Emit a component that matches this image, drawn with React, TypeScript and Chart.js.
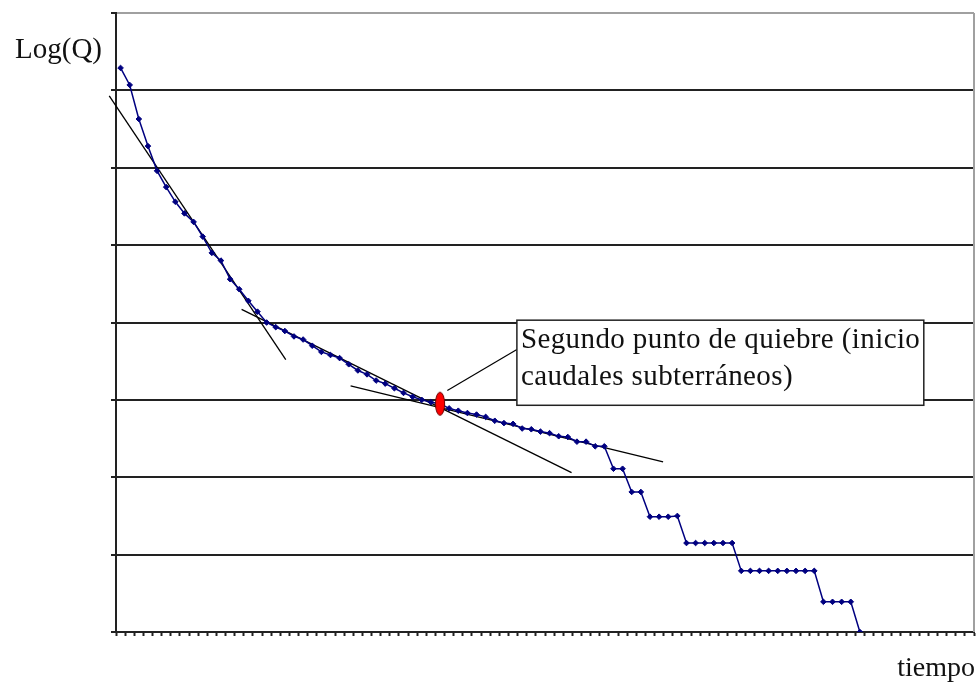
import React, { useEffect, useRef } from "react";
import { Chart, registerables } from "chart.js";

Chart.register(...registerables);

// ---- data ----
const categoryCount = 94; // time steps on the (unlabelled) category axis
const categories: string[] = Array.from({ length: categoryCount }, (_, i) => String(i + 1));

// Log(Q) values of the recession curve (one per time step, index 0..81)
const logQ: number[] = [
  7.29, 7.07, 6.63, 6.28, 5.96, 5.75, 5.56, 5.41, 5.3, 5.11,
  4.9, 4.8, 4.56, 4.43, 4.28, 4.14, 4.0, 3.94, 3.89, 3.82,
  3.78, 3.7, 3.62, 3.58, 3.54, 3.46, 3.38, 3.33, 3.25, 3.21,
  3.15, 3.09, 3.04, 3.0, 2.97, 2.95, 2.89, 2.86, 2.83, 2.81,
  2.78, 2.73, 2.7, 2.69, 2.63, 2.62, 2.59, 2.57, 2.53, 2.52,
  2.46, 2.46, 2.4, 2.4, 2.11, 2.11, 1.81, 1.81, 1.49, 1.49,
  1.49, 1.5, 1.15, 1.15, 1.15, 1.15, 1.15, 1.15, 0.79, 0.79,
  0.79, 0.79, 0.79, 0.79, 0.79, 0.79, 0.79, 0.39, 0.39, 0.39,
  0.39, 0.0,
];

const yTicks: number[] = [0, 1, 2, 3, 4, 5, 6, 7, 8];

// straight tangent lines (start / end, in axis units)
const tangentA = [{ x: -1.24, y: 6.93 }, { x: 18.1, y: 3.52 }];
const tangentB = [{ x: 13.26, y: 4.17 }, { x: 49.41, y: 2.06 }];
const tangentC = [{ x: 25.2, y: 3.18 }, { x: 59.44, y: 2.2 }];

// second break point
const breakIndex = 35;

// callout
const calloutLines: string[] = ["Segundo punto de quiebre (inicio", "caudales subterráneos)"];
const calloutBox = { left: 43.42, right: 88.0, top: 4.03, bottom: 2.93 };
const calloutLeader = [{ x: 35.8, y: 3.12 }, { x: 43.42, y: 3.65 }];

const yTitle = "Log(Q)";
const xTitle = "tiempo";

const FONT = '"Times New Roman", "Liberation Serif", serif';
const AXIS = "#222222";

export default function App() {
  const ref = useRef<HTMLCanvasElement | null>(null);

  useEffect(() => {
    document.body.style.margin = "0";
    const canvas = ref.current;
    if (!canvas) return;

    // red ellipse marker
    const ell = document.createElement("canvas");
    ell.width = 12;
    ell.height = 26;
    const ec = ell.getContext("2d")!;
    ec.beginPath();
    ec.ellipse(6, 13, 4.6, 11.5, 0, 0, Math.PI * 2);
    ec.fillStyle = "#ff0000";
    ec.fill();
    ec.lineWidth = 1;
    ec.strokeStyle = "#6a0000";
    ec.stroke();

    const boundaries = Array.from({ length: categories.length + 1 }, (_, k) => k - 0.5);

    const decor = {
      id: "decor",
      beforeDraw(chart: any) {
        const { ctx, width, height } = chart;
        ctx.save();
        ctx.fillStyle = "#ffffff";
        ctx.fillRect(0, 0, width, height);
        ctx.restore();
      },
      afterDatasetsDraw(chart: any) {
        const { ctx, chartArea: ca, scales } = chart;
        const xs = scales.x;
        const ys = scales.y;
        ctx.save();
        // right frame
        ctx.strokeStyle = "#a0a0a0";
        ctx.lineWidth = 2;
        ctx.beginPath();
        ctx.moveTo(ca.right, ca.top);
        ctx.lineTo(ca.right, ca.bottom);
        ctx.stroke();

        // leader line
        ctx.strokeStyle = "#000000";
        ctx.lineWidth = 1.2;
        ctx.beginPath();
        ctx.moveTo(xs.getPixelForValue(calloutLeader[0].x), ys.getPixelForValue(calloutLeader[0].y));
        ctx.lineTo(xs.getPixelForValue(calloutLeader[1].x), ys.getPixelForValue(calloutLeader[1].y));
        ctx.stroke();

        // callout box
        const l = xs.getPixelForValue(calloutBox.left);
        const r = xs.getPixelForValue(calloutBox.right);
        const t = ys.getPixelForValue(calloutBox.top);
        const b = ys.getPixelForValue(calloutBox.bottom);
        ctx.fillStyle = "#ffffff";
        ctx.fillRect(l, t, r - l, b - t);
        ctx.strokeStyle = "#222222";
        ctx.lineWidth = 1.5;
        ctx.strokeRect(l, t, r - l, b - t);

        ctx.fillStyle = "#111111";
        ctx.font = `29px ${FONT}`;
        ctx.textAlign = "left";
        ctx.textBaseline = "alphabetic";
        try {
          (ctx as any).letterSpacing = "0.4px";
        } catch (e) {}
        calloutLines.forEach((line, i) => {
          ctx.fillText(line, l + 4, t + 28 + i * 37);
        });
        try {
          (ctx as any).letterSpacing = "0px";
        } catch (e) {}

        // axis titles
        ctx.textAlign = "right";
        ctx.font = `29px ${FONT}`;
        ctx.fillText(yTitle, ca.left - 14, 58);
        ctx.font = `28px ${FONT}`;
        ctx.fillText(xTitle, chart.width - 2, 676);
        ctx.restore();
      },
    };

    const chart = new Chart(canvas, {
      type: "line",
      data: {
        labels: categories,
        datasets: [
          {
            label: "break",
            data: [{ x: breakIndex, y: logQ[breakIndex] }],
            showLine: false,
            pointStyle: ell as any,
            pointRadius: 6,
            clip: false as any,
          },
          {
            label: "Log(Q)",
            data: logQ.map((v, i) => ({ x: i, y: v })),
            borderColor: "#000080",
            borderWidth: 1.5,
            pointStyle: "rectRot",
            pointRadius: 2.8,
            pointBackgroundColor: "#000080",
            pointBorderColor: "#000080",
            pointBorderWidth: 1,
            tension: 0,
          },
          ...[tangentA, tangentB, tangentC].map((d, i) => ({
            label: "tangent" + i,
            data: d,
            borderColor: "#000000",
            borderWidth: 1.3,
            pointRadius: 0,
            clip: false as any,
            tension: 0,
          })),
        ],
      },
      options: {
        animation: false,
        responsive: false,
        layout: { autoPadding: false, padding: { left: 111, right: 3, top: 13, bottom: 47 } },
        plugins: { legend: { display: false }, tooltip: { enabled: false } },
        scales: {
          x: {
            type: "linear",
            min: -0.5,
            max: categories.length - 0.5,
            afterBuildTicks: (s: any) => {
              s.ticks = boundaries.map((v) => ({ value: v }));
            },
            ticks: { display: false },
            grid: { drawOnChartArea: false, tickLength: 4, tickColor: AXIS, tickWidth: 2 },
            border: { color: AXIS, width: 2 },
          },
          y: {
            min: 0,
            max: 8,
            afterBuildTicks: (s: any) => {
              s.ticks = yTicks.map((v) => ({ value: v }));
            },
            ticks: { display: false },
            grid: {
              color: (c: any) => (c.tick && c.tick.value === 8 ? "#a0a0a0" : AXIS),
              lineWidth: 2,
              tickLength: 5,
              tickColor: AXIS,
              tickWidth: 2,
            },
            border: { color: AXIS, width: 2 },
          },
        },
      },
      plugins: [decor],
    });

    return () => chart.destroy();
  }, []);

  return (
    <div style={{ width: 977, height: 683 }}>
      <canvas ref={ref} width={977} height={683} style={{ display: "block" }} />
    </div>
  );
}
